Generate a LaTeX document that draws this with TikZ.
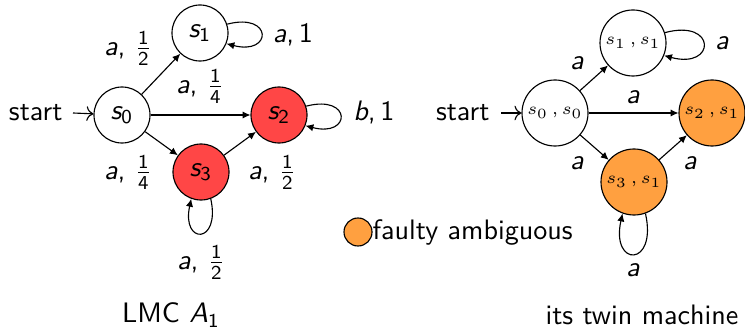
\documentclass[tikz,border=0pt]{standalone}
\usepackage{amsmath}
\usetikzlibrary{arrows.meta}
\definecolor{redst}{RGB}{255,70,70}
\definecolor{orangest}{RGB}{255,160,64}
\newcommand\mv[1]{\textit{#1}}
\newcommand\sv[2]{$\mv{#1}_{\text{#2}}$}
\newcommand\fr[2]{$\frac{\text{#1}}{\text{#2}}$}
\tikzset{
  lstate/.style={circle,draw,minimum size=0.7cm,inner sep=0pt},
  tstate/.style={circle,draw,minimum size=0.825cm,inner sep=0pt,font=\fontsize{6.5}{7}\selectfont},
  lbl/.style={inner sep=0pt},
  edge/.style={-{Latex[length=2.8pt,width=2.6pt]}},
}
\begin{document}
\begin{tikzpicture}[x=0.0125cm,y=-0.0125cm,font=\sffamily]
\useasboundingbox (0,0) rectangle (745,329);
% left: LMC
\node[lstate] (s0) at (122,115) {\sv{s}{0}};
\node[lstate] (s1) at (200,33) {\sv{s}{1}};
\node[lstate,fill=redst] (s2) at (279,115) {\sv{s}{2}};
\node[lstate,fill=redst] (s3) at (201,172) {\sv{s}{3}};
\node[anchor=east,inner sep=0pt] (st1) at (63,113) {start};
\draw[->] (st1.east)+(10,0) coordinate (st1a) (st1a) -- (s0);
\draw[edge] (s0) -- (s1);
\draw[edge] (s0) -- (s2);
\draw[edge] (s0) -- (s3);
\draw[edge] (s3) -- (s2);
\draw[edge] (s1.18) .. controls +(46,-12) and +(46,12) .. (s1.-22);
\draw[edge] (s2.18) .. controls +(46,-12) and +(46,12) .. (s2.-22);
\draw[edge] (s3.-70) .. controls +(10,46) and +(-10,46) .. (s3.-110);
\node[lbl] (l1) at (128,48) {\mv{a}, \fr{1}{2}};
\node[lbl] (l2) at (200,86) {\mv{a}, \fr{1}{4}};
\node[lbl] (l3) at (128,172) {\mv{a}, \fr{1}{4}};
\node[lbl] (l4) at (272,172) {\mv{a}, \fr{1}{2}};
\node[lbl] (l5) at (293,35) {\mv{a},\,1};
\node[lbl] (l6) at (374,113) {\mv{b},\,1};
\node[lbl] (l7) at (201,262) {\mv{a}, \fr{1}{2}};
\node[inner sep=0pt] (c1) at (171,315) {LMC \sv{A}{1}};
% legend
\node[circle,draw,fill=orangest,minimum size=0.35cm,inner sep=0pt] (lg) at (358,232) {};
\node[anchor=west,inner sep=0pt] (lgt) at (372,232) {faulty ambiguous};
% right: twin machine
\node[tstate] (t0) at (555,113) {$s_0\,,s_0$};
\node[tstate] (t1) at (633,43) {$s_1\,,s_1$};
\node[tstate,fill=orangest] (t2) at (712,113) {$s_2\,,s_1$};
\node[tstate,fill=orangest] (t3) at (634,182) {$s_3\,,s_1$};
\node[anchor=east,inner sep=0pt] (st2) at (490,113) {start};
\draw[->] (st2.east)+(11,0) coordinate (st2a) (st2a) -- (t0);
\draw[edge] (t0) -- (t1);
\draw[edge] (t0) -- (t2);
\draw[edge] (t0) -- (t3);
\draw[edge] (t3) -- (t2);
\draw[edge] (t1.18) .. controls +(52,-14) and +(52,14) .. (t1.-22);
\draw[edge] (t3.-70) .. controls +(12,54) and +(-12,54) .. (t3.-110);
\node[lbl] (m1) at (577,63) {\mv{a}};
\node[lbl] (m2) at (633,97) {\mv{a}};
\node[lbl] (m3) at (577,163) {\mv{a}};
\node[lbl] (m4) at (690,163) {\mv{a}};
\node[lbl] (m5) at (722,43) {\mv{a}};
\node[lbl] (m6) at (633,270) {\mv{a}};
\node[inner sep=0pt] (c2) at (642,315) {its twin machine};
\end{tikzpicture}
\end{document}
